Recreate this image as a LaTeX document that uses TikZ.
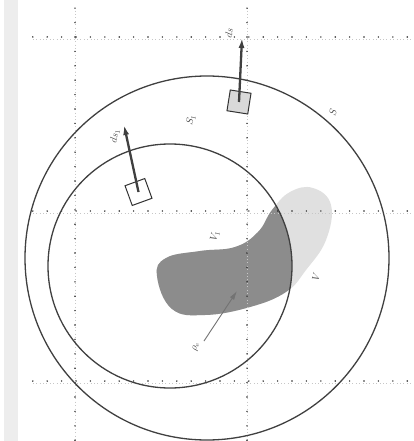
\documentclass[tikz,border=0pt]{standalone}
\usetikzlibrary{arrows.meta}
\definecolor{ringcol}{gray}{0.25}
\definecolor{blobdark}{gray}{0.55}
\definecolor{bloblight}{gray}{0.88}
\definecolor{stripcol}{gray}{0.93}
\tikzset{
  ring/.style={draw=ringcol, line width=1.3pt},
  gridline/.style={draw=black!85, line width=1.6pt, line cap=round, dash pattern=on 0pt off 14.4pt},
  gridfaint/.style={draw=black!22, line width=0.5pt, dash pattern=on 0.8pt off 2.6pt},
  sqbox/.style={draw=black!80, line width=1pt, minimum size=21pt, inner sep=0pt},
  vec/.style={draw=black!75, line width=2.3pt, -{Latex[length=10pt,width=6pt]}},
  thinvec/.style={draw=black!55, line width=0.9pt, -{Latex[length=9pt,width=5pt]}},
  lab/.style={font=\normalsize, inner sep=0pt, text=black!70},
}
\begin{document}
\begin{tikzpicture}[x=1pt,y=-1pt]
\useasboundingbox (0,0) rectangle (413,441);
\fill[white] (0,0) rectangle (413,441);
\fill[stripcol] (4,0) rectangle (18,441);

% blob V
\def\blobpath{plot[smooth cycle, tension=0.7] coordinates {(157,276) (166,258) (200,251) (235,247) (258,232) (272,210) (290,192) (313,188) (331,205) (326,240) (306,270) (286,292) (250,307) (205,315) (172,309)}}
\fill[bloblight] \blobpath;
\begin{scope}
  \clip (170,266) circle[radius=122];
  \fill[blobdark] \blobpath;
\end{scope}

% grid
\coordinate (h1s) at (32.8,37);  \coordinate (h1e) at (413,37);
\coordinate (h2s) at (32.8,211); \coordinate (h2e) at (413,211);
\coordinate (h3s) at (32.8,381); \coordinate (h3e) at (413,381);
\coordinate (v1s) at (75,8.2);   \coordinate (v1e) at (75,441);
\coordinate (v2s) at (247,8.2);  \coordinate (v2e) at (247,441);
\foreach \a/\b in {h1s/h1e,h2s/h2e,h3s/h3e,v1s/v1e,v2s/v2e}{
  \draw[gridfaint] ([yshift=-2.5pt]\a) -- ([yshift=-2.5pt]\b);
  \draw[gridline] (\a) -- (\b);
}

% surfaces
\draw[ring] (207,258) circle[radius=182];
\draw[ring] (170,266) circle[radius=122];

% surface elements
\node[sqbox, fill=black!15, rotate=-9] (sq) at (239,102) {};
\coordinate (dstip) at (242,38);
\draw[vec] (sq.center) -- (dstip);
\node[sqbox, fill=white, rotate=20] (sqa) at (138.5,192) {};
\coordinate (dsatip) at (124,125);
\draw[vec] (sqa.center) -- (dsatip);

% rho_e arrow
\coordinate (rhos) at (204,341);
\coordinate (rhoe) at (237,291);
\draw[thinvec] (rhos) -- (rhoe);

% labels
\node[lab, rotate=80] (lds) at (229,33) {$ds$};
\node[lab, rotate=80] (ldsa) at (115,136) {$ds_1$};
\node[lab, rotate=75] (lS1) at (191,120) {$S_1$};
\node[lab, rotate=75] (lS) at (333,112) {$S$};
\node[lab, rotate=75] (lV1) at (215,236) {$V_1$};
\node[lab, rotate=75] (lV) at (316,277) {$V$};
\node[lab, rotate=75] (lrho) at (196,347) {$\rho_e$};
\end{tikzpicture}
\end{document}
